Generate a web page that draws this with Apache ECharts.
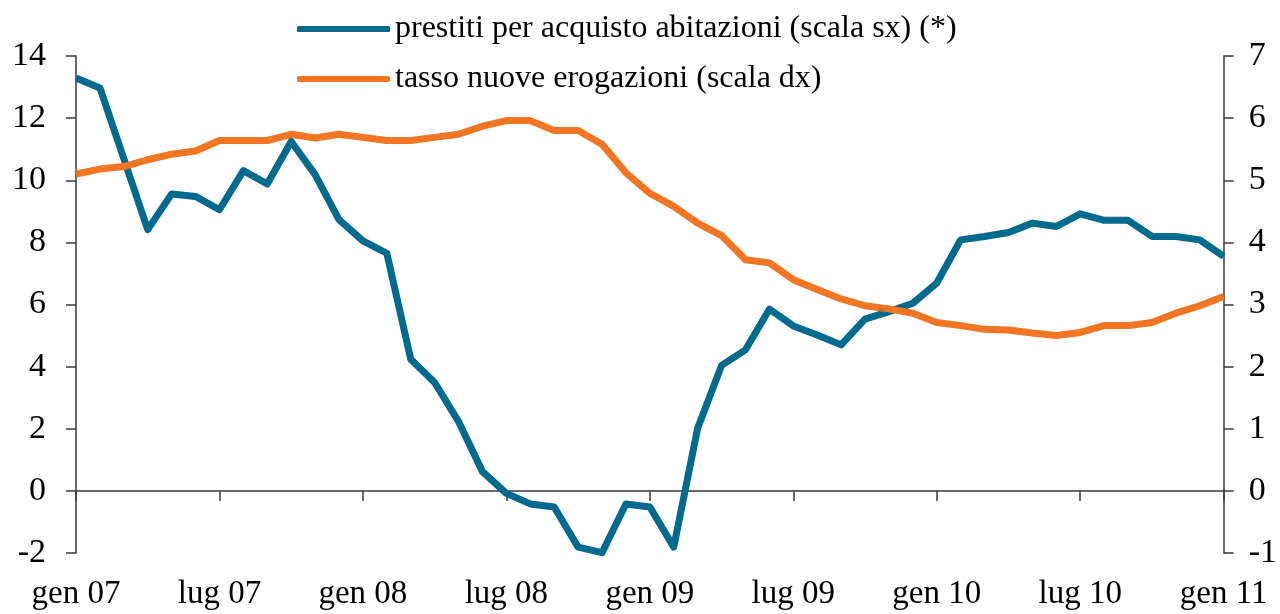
<!DOCTYPE html>
<html>
<head>
<meta charset="utf-8">
<script src="https://cdn.jsdelivr.net/npm/echarts@6/dist/echarts.min.js"></script>
<style>
  html, body { margin: 0; padding: 0; background: #fff; }
  #chart { width: 1280px; height: 614px; }
</style>
</head>
<body>
<div id="chart"></div>
<script>
const monthNames = ["gen", "feb", "mar", "apr", "mag", "giu", "lug", "ago", "set", "ott", "nov", "dic"];
const years = ["07", "08", "09", "10", "11"];

// gen 07 ... gen 11, monthly
const categories = [];
years.forEach((y) => {
  monthNames.forEach((m) => {
    if (categories.length < 49) categories.push(m + " " + y);
  });
});

// prestiti per acquisto abitazioni (scala sx)
const prestiti = [
  13.29, 12.97, 10.7, 8.41, 9.56, 9.48, 9.05, 10.31, 9.88, 11.25, 10.18, 8.73,
  8.05, 7.65, 4.24, 3.49, 2.23, 0.62, -0.08, -0.42, -0.52, -1.81, -1.99, -0.42,
  -0.52, -1.81, 2.02, 4.04, 4.54, 5.85, 5.31, 5.02, 4.7, 5.53, 5.77, 6.04,
  6.69, 8.08, 8.19, 8.32, 8.62, 8.51, 8.92, 8.71, 8.71, 8.19, 8.19, 8.08,
  7.55,
];

// tasso nuove erogazioni (scala dx)
const tasso = [
  5.1, 5.18, 5.22, 5.33, 5.42, 5.47, 5.64, 5.64, 5.64, 5.74, 5.68, 5.74,
  5.69, 5.64, 5.64, 5.69, 5.74, 5.87, 5.96, 5.96, 5.8, 5.8, 5.58, 5.12,
  4.79, 4.58, 4.31, 4.11, 3.72, 3.67, 3.4, 3.24, 3.09, 2.98, 2.93, 2.86,
  2.71, 2.66, 2.6, 2.59, 2.54, 2.5, 2.55, 2.66, 2.66, 2.71, 2.86, 2.98,
  3.13,
];

const font = "'Liberation Serif', 'Times New Roman', serif";
const axisColor = "#3a3a3a";

const chart = echarts.init(document.getElementById("chart"));
const option = {
  animation: false,
  textStyle: { fontFamily: font },
  legend: {
    orient: "vertical",
    left: 292,
    top: 8,
    icon: "roundRect",
    itemWidth: 93,
    itemHeight: 6,
    itemGap: 18,
    textStyle: { fontFamily: font, fontSize: 32, color: "#000", lineHeight: 31 },
    data: ["prestiti per acquisto abitazioni (scala sx) (*)", "tasso nuove erogazioni (scala dx)"],
  },
  grid: {
    left: 76,
    right: 56,
    top: 56,
    bottom: 61,
  },
  xAxis: [
    {
      type: "category",
      data: categories,
      boundaryGap: false,
      axisLine: { show: true, onZero: true, lineStyle: { color: axisColor, width: 1.5 } },
      axisTick: {
        show: true,
        length: 10,
        interval: (idx) => idx % 6 === 0,
        lineStyle: { color: axisColor, width: 1.5 },
      },
      axisLabel: { show: false },
      splitLine: { show: false },
    },
    {
      type: "category",
      data: categories,
      boundaryGap: false,
      position: "bottom",
      axisLine: { show: false, onZero: false },
      axisTick: { show: false },
      axisLabel: {
        show: true,
        interval: (idx) => idx % 6 === 0,
        hideOverlap: false,
        margin: 25,
        fontFamily: font,
        fontSize: 33,
        color: "#000",
      },
      splitLine: { show: false },
    },
  ],
  yAxis: [
    {
      type: "value",
      min: -2,
      max: 14,
      interval: 2,
      position: "left",
      axisLine: { show: true, onZero: false, lineStyle: { color: axisColor, width: 1.5 } },
      axisTick: { show: true, length: 10, lineStyle: { color: axisColor, width: 1.5 } },
      axisLabel: { margin: 30, fontFamily: font, fontSize: 34, color: "#000" },
      splitLine: { show: false },
    },
    {
      type: "value",
      min: -1,
      max: 7,
      interval: 1,
      position: "right",
      axisLine: { show: true, onZero: false, lineStyle: { color: axisColor, width: 1.5 } },
      axisTick: { show: true, length: 10, lineStyle: { color: axisColor, width: 1.5 } },
      axisLabel: { margin: 25, fontFamily: font, fontSize: 34, color: "#000" },
      splitLine: { show: false },
    },
  ],
  series: [
    {
      name: "prestiti per acquisto abitazioni (scala sx) (*)",
      type: "line",
      xAxisIndex: 0,
      yAxisIndex: 0,
      data: prestiti,
      showSymbol: false,
      symbol: "none",
      color: "#006A8F",
      lineStyle: { width: 7, color: "#006A8F", join: "round" },
    },
    {
      name: "tasso nuove erogazioni (scala dx)",
      type: "line",
      xAxisIndex: 0,
      yAxisIndex: 1,
      data: tasso,
      showSymbol: false,
      symbol: "none",
      color: "#F27524",
      lineStyle: { width: 7, color: "#F27524", join: "round" },
    },
  ],
};
chart.setOption(option);

window.addEventListener("resize", () => {
  chart.resize();
});
</script>
</body>
</html>
